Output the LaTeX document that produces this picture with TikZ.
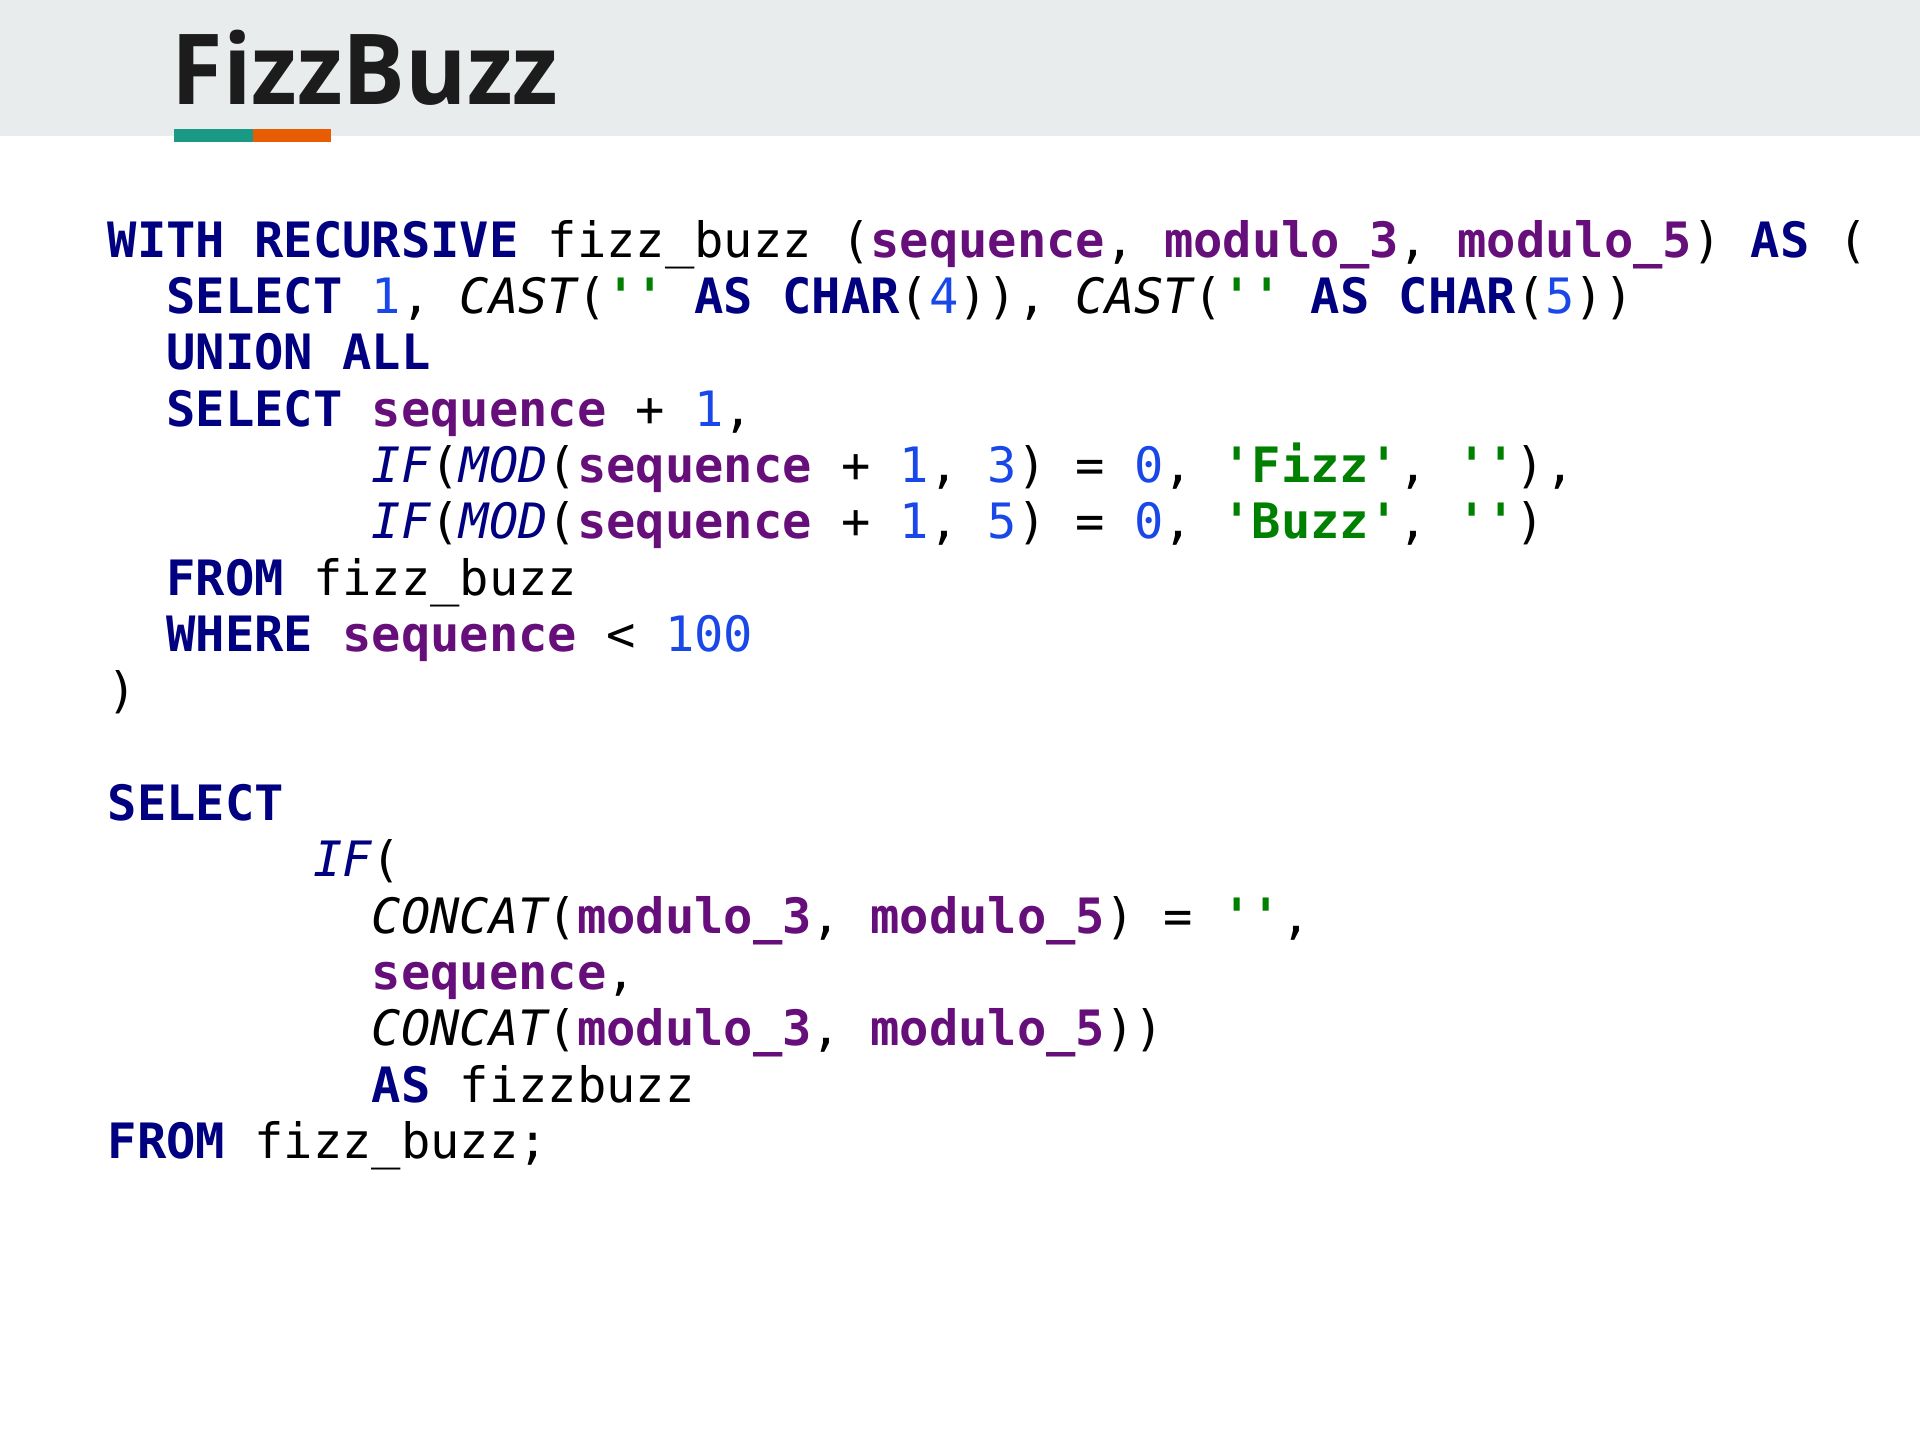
\documentclass[tikz,border=0pt]{standalone}
\usepackage{fontspec}
\usepackage{xcolor}
\newfontfamily\codefont{DejaVu Sans Mono}[Ligatures=TeXOff]
\newfontfamily\titlefont{Open Sans}
\definecolor{bandc}{HTML}{E9ECED}
\definecolor{tealc}{HTML}{1A9A86}
\definecolor{orangec}{HTML}{E85D04}
\definecolor{titlec}{HTML}{1C1C1C}
\definecolor{kwc}{HTML}{000080}
\definecolor{idc}{HTML}{660E7A}
\definecolor{numc}{HTML}{1A48E8}
\definecolor{strc}{HTML}{008000}
\newcommand\sqlkw[1]{{\bfseries\color{kwc}#1}}
\newcommand\sqlid[1]{{\bfseries\color{idc}#1}}
\newcommand\sqlnum[1]{{\color{numc}#1}}
\newcommand\sqlstr[1]{{\bfseries\color{strc}#1}}
\newcommand\sqlfn[1]{{\itshape #1}}
\newcommand\sqlfk[1]{{\itshape\color{kwc}#1}}
\begin{document}
\begin{tikzpicture}[x=1pt,y=-1pt,
  codeline/.style={anchor=base west,inner sep=0pt,outer sep=0pt,
    font=\codefont\fontsize{39.8}{46}\selectfont,text=black}]
\useasboundingbox (0,0) rectangle (1568,1176);
\fill[white] (0,0) rectangle (1568,1176);
\fill[bandc] (0,0) rectangle (1568,111);
\fill[tealc] (142,105) rectangle (207,116);
\fill[orangec] (207,105) rectangle (270,116);
\node[anchor=base west,inner sep=0pt,text=titlec,xscale=0.955,
  font=\titlefont\bfseries\fontsize{80}{90}\selectfont] (title) at (140,85) {FizzBuzz};
\def\cw{23.95}
\node[codeline] (L0) at (88,210) {\sqlkw{WITH RECURSIVE} fizz\_buzz (\sqlid{sequence}, \sqlid{modulo\_3}, \sqlid{modulo\_5}) \sqlkw{AS} (};
\node[codeline] (L1) at (88+2*\cw,256) {\sqlkw{SELECT} \sqlnum{1}, \sqlfn{CAST}(\sqlstr{''} \sqlkw{AS CHAR}(\sqlnum{4})), \sqlfn{CAST}(\sqlstr{''} \sqlkw{AS CHAR}(\sqlnum{5}))};
\node[codeline] (L2) at (88+2*\cw,302) {\sqlkw{UNION ALL}};
\node[codeline] (L3) at (88+2*\cw,348) {\sqlkw{SELECT} \sqlid{sequence} + \sqlnum{1},};
\node[codeline] (L4) at (88+9*\cw,394) {\sqlfk{IF}(\sqlfk{MOD}(\sqlid{sequence} + \sqlnum{1}, \sqlnum{3}) = \sqlnum{0}, \sqlstr{'Fizz'}, \sqlstr{''}),};
\node[codeline] (L5) at (88+9*\cw,440) {\sqlfk{IF}(\sqlfk{MOD}(\sqlid{sequence} + \sqlnum{1}, \sqlnum{5}) = \sqlnum{0}, \sqlstr{'Buzz'}, \sqlstr{''})};
\node[codeline] (L6) at (88+2*\cw,486) {\sqlkw{FROM} fizz\_buzz};
\node[codeline] (L7) at (88+2*\cw,532) {\sqlkw{WHERE} \sqlid{sequence} < \sqlnum{100}};
\node[codeline] (L8) at (88,578) {)};
\node[codeline] (L10) at (88,670) {\sqlkw{SELECT}};
\node[codeline] (L11) at (88+7*\cw,716) {\sqlfk{IF}(};
\node[codeline] (L12) at (88+9*\cw,762) {\sqlfn{CONCAT}(\sqlid{modulo\_3}, \sqlid{modulo\_5}) = \sqlstr{''},};
\node[codeline] (L13) at (88+9*\cw,808) {\sqlid{sequence},};
\node[codeline] (L14) at (88+9*\cw,854) {\sqlfn{CONCAT}(\sqlid{modulo\_3}, \sqlid{modulo\_5}))};
\node[codeline] (L15) at (88+9*\cw,900) {\sqlkw{AS} fizzbuzz};
\node[codeline] (L16) at (88,946) {\sqlkw{FROM} fizz\_buzz;};
\end{tikzpicture}
\end{document}
